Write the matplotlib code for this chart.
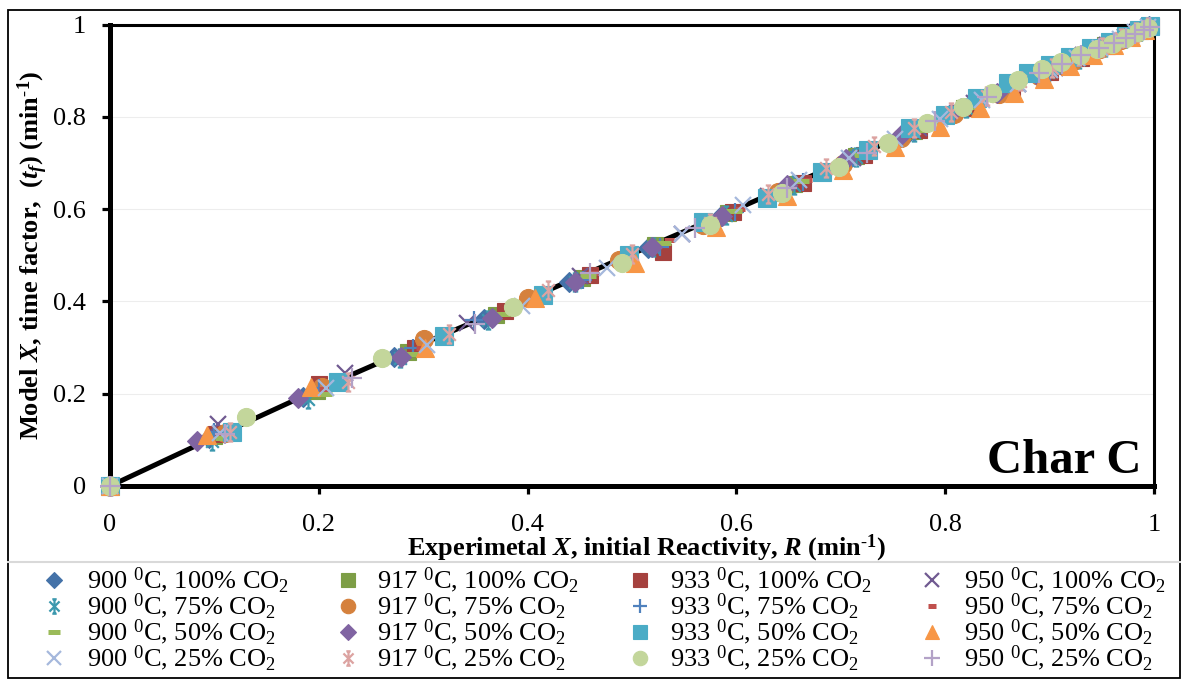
import matplotlib
matplotlib.use("Agg")
import matplotlib.pyplot as plt
from matplotlib.path import Path
from matplotlib.lines import Line2D
from matplotlib.patches import Rectangle

plt.rcParams["font.family"] = ["Liberation Serif", "DejaVu Serif"]
plt.rcParams["mathtext.fontset"] = "custom"
plt.rcParams["mathtext.rm"] = "Liberation Serif"
plt.rcParams["mathtext.it"] = "Liberation Serif:italic:bold"
plt.rcParams["mathtext.bf"] = "Liberation Serif:bold"

# ---------------- data: experimental X vs model X ----------------
temps = [900, 917, 933, 950]
co2 = [100, 75, 50, 25]

x_900_100 = [0, 0.095, 0.185, 0.272, 0.358, 0.44, 0.515, 0.585, 0.65, 0.71, 0.765, 0.815, 0.858, 0.895, 0.925, 0.95, 0.97, 0.985, 0.995]
y_900_100 = [0, 0.103, 0.193, 0.28, 0.362, 0.443, 0.515, 0.586, 0.65, 0.712, 0.768, 0.818, 0.86, 0.897, 0.927, 0.952, 0.971, 0.986, 0.996]

x_917_100 = [0, 0.1, 0.198, 0.285, 0.37, 0.452, 0.522, 0.592, 0.655, 0.715, 0.77, 0.818, 0.86, 0.898, 0.928, 0.953, 0.972, 0.987, 0.996]
y_917_100 = [0, 0.108, 0.205, 0.29, 0.37, 0.45, 0.522, 0.592, 0.655, 0.714, 0.77, 0.82, 0.862, 0.9, 0.93, 0.955, 0.973, 0.988, 0.997]

x_933_100 = [0, 0.102, 0.2, 0.292, 0.378, 0.46, 0.53, 0.597, 0.664, 0.722, 0.775, 0.823, 0.864, 0.9, 0.93, 0.955, 0.974, 0.988, 0.997]
y_933_100 = [0, 0.112, 0.222, 0.298, 0.38, 0.458, 0.508, 0.593, 0.656, 0.718, 0.772, 0.82, 0.862, 0.898, 0.928, 0.953, 0.973, 0.988, 0.997]

x_950_100 = [0, 0.103, 0.225, 0.342, 0.45, 0.548, 0.63, 0.712, 0.775, 0.828, 0.87, 0.905, 0.932, 0.955, 0.972, 0.985, 0.995]
y_950_100 = [0, 0.134, 0.245, 0.353, 0.455, 0.547, 0.628, 0.71, 0.775, 0.83, 0.872, 0.905, 0.933, 0.956, 0.973, 0.986, 0.996]

x_900_75 = [0, 0.098, 0.19, 0.278, 0.362, 0.445, 0.52, 0.59, 0.655, 0.715, 0.77, 0.82, 0.862, 0.898, 0.928, 0.953, 0.972, 0.987, 0.996]
y_900_75 = [0, 0.098, 0.188, 0.277, 0.36, 0.442, 0.518, 0.588, 0.652, 0.712, 0.768, 0.818, 0.86, 0.896, 0.926, 0.951, 0.971, 0.986, 0.995]

x_917_75 = [0, 0.11, 0.203, 0.301, 0.4, 0.488, 0.568, 0.64, 0.702, 0.758, 0.808, 0.852, 0.89, 0.922, 0.948, 0.968, 0.983, 0.994]
y_917_75 = [0, 0.115, 0.214, 0.318, 0.407, 0.49, 0.566, 0.636, 0.698, 0.755, 0.805, 0.85, 0.888, 0.92, 0.946, 0.967, 0.982, 0.994]

x_933_75 = [0, 0.1, 0.2, 0.29, 0.349, 0.453, 0.527, 0.599, 0.664, 0.712, 0.77, 0.82, 0.862, 0.9, 0.93, 0.955, 0.974, 0.988, 0.997]
y_933_75 = [0, 0.118, 0.212, 0.3, 0.359, 0.446, 0.517, 0.593, 0.658, 0.71, 0.768, 0.818, 0.86, 0.898, 0.928, 0.953, 0.972, 0.987, 0.996]

x_950_75 = [0, 0.105, 0.205, 0.298, 0.383, 0.463, 0.535, 0.603, 0.668, 0.726, 0.78, 0.828, 0.868, 0.904, 0.934, 0.958, 0.976, 0.99]
y_950_75 = [0, 0.11, 0.21, 0.3, 0.384, 0.462, 0.532, 0.6, 0.664, 0.722, 0.777, 0.826, 0.866, 0.902, 0.932, 0.957, 0.975, 0.99]

x_900_50 = [0, 0.108, 0.205, 0.29, 0.375, 0.458, 0.53, 0.598, 0.662, 0.72, 0.775, 0.824, 0.865, 0.902, 0.932, 0.956, 0.975, 0.989]
y_900_50 = [0, 0.105, 0.2, 0.287, 0.372, 0.455, 0.527, 0.596, 0.66, 0.718, 0.772, 0.821, 0.863, 0.9, 0.93, 0.955, 0.974, 0.989]

x_917_50 = [0, 0.083, 0.18, 0.279, 0.366, 0.445, 0.519, 0.586, 0.648, 0.705, 0.758, 0.806, 0.85, 0.888, 0.92, 0.946, 0.967, 0.982, 0.994]
y_917_50 = [0, 0.097, 0.19, 0.279, 0.364, 0.442, 0.517, 0.586, 0.652, 0.708, 0.76, 0.808, 0.852, 0.89, 0.922, 0.948, 0.968, 0.983, 0.995]

x_933_50 = [0, 0.117, 0.218, 0.32, 0.415, 0.497, 0.568, 0.629, 0.682, 0.726, 0.766, 0.8, 0.83, 0.86, 0.879, 0.9, 0.92, 0.94, 0.958, 0.973, 0.986, 0.996]
y_933_50 = [0, 0.117, 0.225, 0.326, 0.413, 0.5, 0.571, 0.623, 0.68, 0.728, 0.775, 0.803, 0.84, 0.873, 0.895, 0.912, 0.93, 0.948, 0.963, 0.976, 0.988, 0.997]

x_950_50 = [0, 0.093, 0.193, 0.302, 0.407, 0.503, 0.58, 0.648, 0.702, 0.752, 0.795, 0.833, 0.866, 0.895, 0.92, 0.942, 0.962, 0.978, 0.991]
y_950_50 = [0, 0.11, 0.214, 0.3, 0.407, 0.483, 0.562, 0.628, 0.684, 0.735, 0.778, 0.818, 0.852, 0.882, 0.91, 0.933, 0.955, 0.973, 0.989]

x_900_25 = [0, 0.105, 0.207, 0.304, 0.395, 0.476, 0.548, 0.606, 0.66, 0.708, 0.752, 0.795, 0.835, 0.87, 0.9, 0.926, 0.948, 0.967, 0.982, 0.994]
y_900_25 = [0, 0.115, 0.212, 0.305, 0.39, 0.472, 0.545, 0.608, 0.664, 0.71, 0.752, 0.796, 0.836, 0.871, 0.901, 0.927, 0.949, 0.968, 0.983, 0.995]

x_917_25 = [0, 0.115, 0.228, 0.325, 0.42, 0.5, 0.575, 0.63, 0.686, 0.732, 0.77, 0.806, 0.84, 0.872, 0.902, 0.928, 0.95, 0.968, 0.983, 0.994]
y_917_25 = [0, 0.117, 0.225, 0.33, 0.424, 0.502, 0.57, 0.633, 0.69, 0.736, 0.775, 0.81, 0.845, 0.877, 0.905, 0.931, 0.952, 0.97, 0.984, 0.995]

x_933_25 = [0, 0.13, 0.261, 0.386, 0.49, 0.575, 0.644, 0.698, 0.745, 0.783, 0.817, 0.845, 0.87, 0.893, 0.911, 0.929, 0.945, 0.96, 0.973, 0.985, 0.994]
y_933_25 = [0, 0.149, 0.277, 0.388, 0.483, 0.565, 0.634, 0.691, 0.744, 0.786, 0.821, 0.851, 0.88, 0.903, 0.918, 0.933, 0.946, 0.958, 0.971, 0.983, 0.993]

x_950_25 = [0, 0.11, 0.232, 0.35, 0.46, 0.56, 0.648, 0.725, 0.79, 0.84, 0.89, 0.912, 0.93, 0.947, 0.962, 0.973, 0.982, 0.99, 0.996]
y_950_25 = [0, 0.112, 0.235, 0.352, 0.462, 0.558, 0.645, 0.722, 0.79, 0.842, 0.895, 0.915, 0.933, 0.948, 0.96, 0.97, 0.979, 0.988, 0.995]

# model prediction curve
model_x = [0, 0.05, 0.1, 0.2, 0.3, 0.4, 0.5, 0.6, 0.7, 0.8, 0.9, 1.0]
model_y = [0, 0.053, 0.106, 0.21, 0.309, 0.405, 0.503, 0.6, 0.7, 0.8, 0.9, 1.0]

ticks = [0, 0.2, 0.4, 0.6, 0.8, 1]
tick_labels = ["0", "0.2", "0.4", "0.6", "0.8", "1"]

series = {
    (900, 100): (x_900_100, y_900_100), (917, 100): (x_917_100, y_917_100),
    (933, 100): (x_933_100, y_933_100), (950, 100): (x_950_100, y_950_100),
    (900, 75): (x_900_75, y_900_75), (917, 75): (x_917_75, y_917_75),
    (933, 75): (x_933_75, y_933_75), (950, 75): (x_950_75, y_950_75),
    (900, 50): (x_900_50, y_900_50), (917, 50): (x_917_50, y_917_50),
    (933, 50): (x_933_50, y_933_50), (950, 50): (x_950_50, y_950_50),
    (900, 25): (x_900_25, y_900_25), (917, 25): (x_917_25, y_917_25),
    (933, 25): (x_933_25, y_933_25), (950, 25): (x_950_25, y_950_25),
}

# ---------------- marker styles ----------------
asterisk = Path(
    [(-0.7, -0.7), (0.7, 0.7), (-0.7, 0.7), (0.7, -0.7), (0, -1), (0, 1),
     (-0.3, 1), (0.3, 1), (-0.3, -1), (0.3, -1)],
    [Path.MOVETO, Path.LINETO] * 5,
)

# marker, color, size, filled, edge width
styles = {
    (900, 100): ("D", "#4472A8", 10, True, 0.8),
    (900, 75): (asterisk, "#3C98AE", 13, False, 1.6),
    (900, 50): ("_", "#9BBB59", 11, False, 3.6),
    (900, 25): ("x", "#A5B8DC", 12, False, 1.6),
    (917, 100): ("s", "#7D9E46", 12, True, 0.8),
    (917, 75): ("o", "#D5813D", 13, True, 0.8),
    (917, 50): ("D", "#8064A2", 10, True, 0.8),
    (917, 25): (asterisk, "#DCA3A1", 13, False, 1.6),
    (933, 100): ("s", "#A5413E", 12, True, 0.8),
    (933, 75): ("+", "#4F81BD", 13, False, 1.6),
    (933, 50): ("s", "#4BACC6", 13, True, 0.8),
    (933, 25): ("o", "#C3D69B", 13, True, 0.8),
    (950, 100): ("x", "#705A91", 12, False, 1.6),
    (950, 75): ("_", "#C0504D", 7, False, 3.6),
    (950, 50): ("^", "#F79646", 13, True, 0.8),
    (950, 25): ("+", "#B3A2C7", 14, False, 1.6),
}


def marker_kw(key, scale=1.0):
    mk, col, ms, filled, mew = styles[key]
    return dict(marker=mk, markersize=ms * scale, markeredgewidth=mew,
                markeredgecolor=col,
                markerfacecolor=col if filled else "none",
                linestyle="none")


FS = 19
W, H = 1186, 680
fig = plt.figure(figsize=(W / 100, H / 100), dpi=100)
ax = fig.add_axes([110 / W, (H - 486) / H, 1044 / W, 461.5 / H])

ax.plot(model_x, model_y, color="black", lw=3.6, zorder=2, solid_capstyle="butt")

zo = 3
for p in co2:
    for T in temps:
        xs, ys = series[(T, p)]
        ax.plot(xs, ys, clip_on=False, zorder=zo, **marker_kw((T, p)))
        zo += 0.01

ax.set_xlim(0, 1)
ax.set_ylim(0, 1)
ax.set_xticks(ticks)
ax.set_xticklabels(tick_labels)
ax.set_yticks(ticks)
ax.set_yticklabels(tick_labels)
ax.tick_params(direction="out", length=5.5, width=2.3, labelsize=FS, color="black")
ax.tick_params(axis="x", pad=15)
ax.tick_params(axis="y", pad=12)
for side in ["left", "bottom"]:
    ax.spines[side].set_linewidth(3.6)
for side in ["top", "right"]:
    ax.spines[side].set_linewidth(2.2)
ax.yaxis.grid(True, color="#EDEDED", lw=0.8)
ax.set_axisbelow(True)

ax.set_xlabel(r"Experimetal $\mathit{X}$, initial Reactivity, $\mathit{R}$ (min$^{\text{-}\mathbf{1}}$)",
              fontsize=FS, fontweight="bold")
ax.xaxis.set_label_coords(0.514, -0.150)
ax.xaxis.label.set_va("baseline")

ax.set_ylabel(r"Model $\mathit{X}$, time factor,  ($\mathit{t}_{\mathit{f}}$) (min$^{\text{-}\mathbf{1}}$)",
              fontsize=FS, fontweight="bold")
ax.yaxis.set_label_coords(-0.0738, 0.501)
ax.yaxis.label.set_va("center")

ax.text(0.9885, 0.0288, "Char C", transform=ax.transAxes, ha="right",
        va="baseline", fontsize=35, fontweight="bold")

# ---------------- legend block ----------------
marker_cols = [54, 348, 640, 932]
text_cols = [87, 377, 670, 964]
row_centers = [580, 606, 632, 658]
for ci, T in enumerate(temps):
    for ri, p in enumerate(co2):
        yc = 1 - row_centers[ri] / H
        fig.add_artist(Line2D([marker_cols[ci] / W], [yc], transform=fig.transFigure,
                              **marker_kw((T, p), scale=0.8)))
        fig.text(text_cols[ci] / W, 1 - (row_centers[ri] + 8.5) / H,
                 f"{T} $^{{0}}$C, {p}% CO$_{{2}}$", fontsize=FS, va="baseline", ha="left")

fig.add_artist(Line2D([8 / W, 1180 / W], [1 - 562 / H] * 2, transform=fig.transFigure,
                      color="#D9D9D9", lw=1.5))
fig.add_artist(Rectangle((8 / W, 1 - 677.5 / H), 1172 / W, 668 / H, transform=fig.transFigure,
                         fill=False, edgecolor="black", lw=1.3))

fig.savefig("out.png", dpi=100)
